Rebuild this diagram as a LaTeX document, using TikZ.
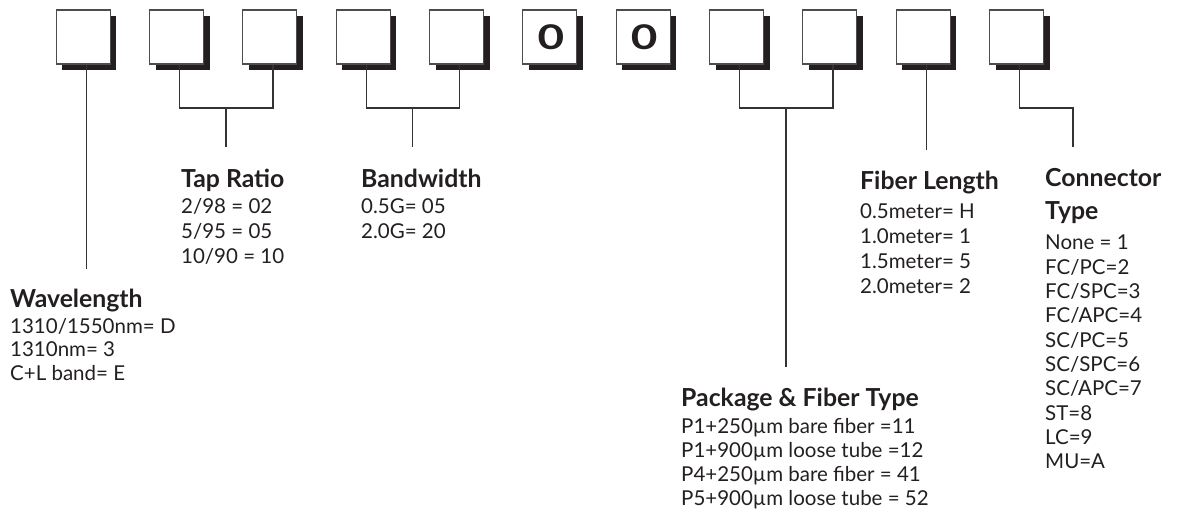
\documentclass[tikz,border=0pt]{standalone}
\usepackage{fontspec}
\setmainfont{Lato}
\usetikzlibrary{shadows}
\definecolor{ink}{HTML}{231F20}
\definecolor{wire}{HTML}{333333}
\begin{document}
\begin{tikzpicture}[x=1pt,y=-1pt,
  digitbox/.style={draw=ink!80, line width=1.1pt, fill=white, minimum width=54pt, minimum height=54pt, inner sep=0pt,
     drop shadow={shadow xshift=6pt, shadow yshift=-6pt, opacity=1, fill=ink}},
  zero/.style={font=\bfseries\fontsize{34}{34}\selectfont, text=ink, inner sep=0pt},
  conn/.style={draw=wire, line width=1.3pt},
  head/.style={anchor=base west, inner sep=0pt, font=\bfseries\fontsize{24.8}{26}\selectfont, text=ink},
  body/.style={anchor=base west, inner sep=0pt, font=\fontsize{20.5}{24}\selectfont, text=ink}]
\useasboundingbox (0,0) rectangle (1185,529);

% boxes
\foreach \i in {1,...,11} {
  \node[digitbox] (b\i) at ({83.2+93.33*(\i-1)},37) {};
}
\node[zero] (z1) at ([xshift=1pt]b6.center) {\scalebox{1.35}[1]{0}};
\node[zero] (z2) at ([xshift=1pt]b7.center) {\scalebox{1.35}[1]{0}};

% connector coordinates
\coordinate (wl-end) at (86,269);
\coordinate (tap-j) at (226,108);
\coordinate (tap-end) at (226,147);
\coordinate (bw-j) at (412.7,108);
\coordinate (bw-end) at (412.7,147);
\coordinate (pk-j) at (786,108);
\coordinate (pk-end) at (786,367);
\coordinate (fl-end) at (926,150);
\coordinate (ct-j) at (1073,108);
\coordinate (ct-end) at (1073,147);

\draw[conn] ([xshift=3pt]b1.south) -- ([xshift=3pt]b1.south |- wl-end);
\draw[conn] ([xshift=3pt]b2.south) |- (tap-j) -| ([xshift=3pt]b3.south);
\draw[conn] (tap-j) -- (tap-end);
\draw[conn] ([xshift=3pt]b4.south) |- (bw-j) -| ([xshift=3pt]b5.south);
\draw[conn] (bw-j) -- (bw-end);
\draw[conn] ([xshift=3pt]b8.south) |- (pk-j) -| ([xshift=3pt]b9.south);
\draw[conn] (pk-j) -- (pk-end);
\draw[conn] ([xshift=3pt]b10.south) -- ([xshift=3pt]b10.south |- fl-end);
\draw[conn] ([xshift=3pt]b11.south) |- (ct-j) -- (ct-end);

% Wavelength
\node[head] (wl-h) at (10,307) {Wavelength};
\foreach [count=\i] \t in {{1310/1550nm= D},{1310nm= 3},{C+L band= E}}
  \node[body] (wl-\i) at (10,{333+23.5*(\i-1)}) {\t};

% Tap Ratio
\node[head] (tap-h) at (181,188) {Tap Ratio};
\foreach [count=\i] \t in {{2/98 = 02},{5/95 = 05},{10/90 = 10}}
  \node[body] (tap-\i) at (181,{214+25*(\i-1)}) {\t};

% Bandwidth
\node[head] (bw-h) at (361,188) {Bandwidth};
\foreach [count=\i] \t in {{0.5G= 05},{2.0G= 20}}
  \node[body] (bw-\i) at (361,{214+25*(\i-1)}) {\t};

% Package & Fiber Type
\node[head] (pk-h) at (681,406) {Package \& Fiber Type};
\foreach [count=\i] \t in {{P1+250µm bare fiber =11},{P1+900µm loose tube =12},{P4+250µm bare fiber = 41},{P5+900µm loose tube = 52}}
  \node[body] (pk-\i) at (681,{433+24.3*(\i-1)}) {\t};

% Fiber Length
\node[head] (fl-h) at (860,190) {Fiber Length};
\foreach [count=\i] \t in {{0.5meter= H},{1.0meter= 1},{1.5meter= 5},{2.0meter= 2}}
  \node[body] (fl-\i) at (860,{219+24.7*(\i-1)}) {\t};

% Connector Type
\node[head] (ct-h1) at (1045,187) {Connector};
\node[head] (ct-h2) at (1045,220) {Type};
\foreach [count=\i] \t in {{None = 1},{FC/PC=2},{FC/SPC=3},{FC/APC=4},{SC/PC=5},{SC/SPC=6},{SC/APC=7},{ST=8},{LC=9},{MU=A}}
  \node[body] (ct-\i) at (1045,{250+24.3*(\i-1)}) {\t};
\end{tikzpicture}
\end{document}
